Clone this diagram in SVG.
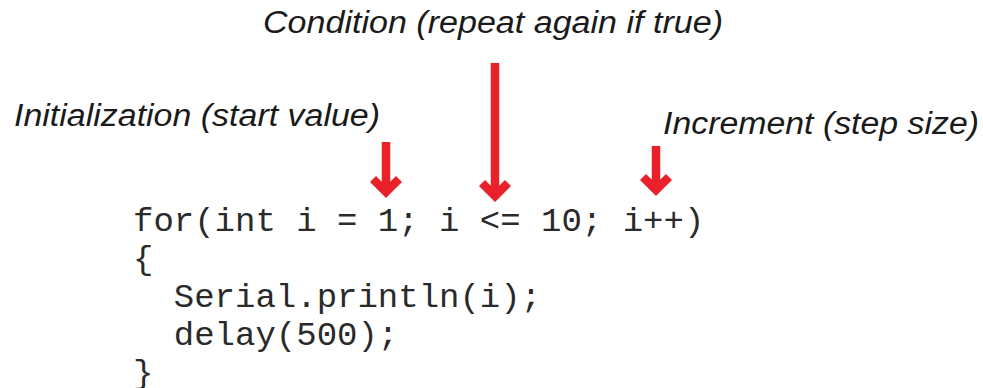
<svg xmlns="http://www.w3.org/2000/svg" width="983" height="388" viewBox="0 0 983 388">
<style>
.lbl{font-family:"Liberation Sans",Arial,sans-serif;font-style:italic;font-size:31px;fill:#1a1a1a}
.code{font-family:"Liberation Mono","Courier New",monospace;font-size:34px;fill:#2a2a2a;white-space:pre}
.arr{stroke:#e8212a;stroke-width:8.5;fill:none;stroke-linejoin:miter}
</style>
<rect width="983" height="388" fill="#ffffff"/>
<g id="label-condition"><text class="lbl" x="263" y="33" textLength="460" lengthAdjust="spacingAndGlyphs">Condition (repeat again if true)</text></g>
<g id="label-init"><text class="lbl" x="14" y="126" textLength="366" lengthAdjust="spacingAndGlyphs">Initialization (start value)</text></g>
<g id="label-incr"><text class="lbl" x="663" y="134" textLength="316" lengthAdjust="spacingAndGlyphs">Increment (step size)</text></g>
<g id="code">
<text class="code" x="133" y="231" xml:space="preserve">for(int i = 1; i &lt;= 10; i++)</text>
<text class="code" x="133" y="269" xml:space="preserve">{</text>
<text class="code" x="133" y="307" xml:space="preserve">  Serial.println(i);</text>
<text class="code" x="133" y="345" xml:space="preserve">  delay(500);</text>
<text class="code" x="133" y="383" xml:space="preserve">}</text>
</g>
<g id="connectors">
<path class="arr" d="M386 142V192M373 179L386 192L399 179"/>
<path class="arr" d="M495 63V196M482 183L495 196L508 183"/>
<path class="arr" d="M656 146V190M643 177L656 190L669 177"/>
</g>
</svg>
